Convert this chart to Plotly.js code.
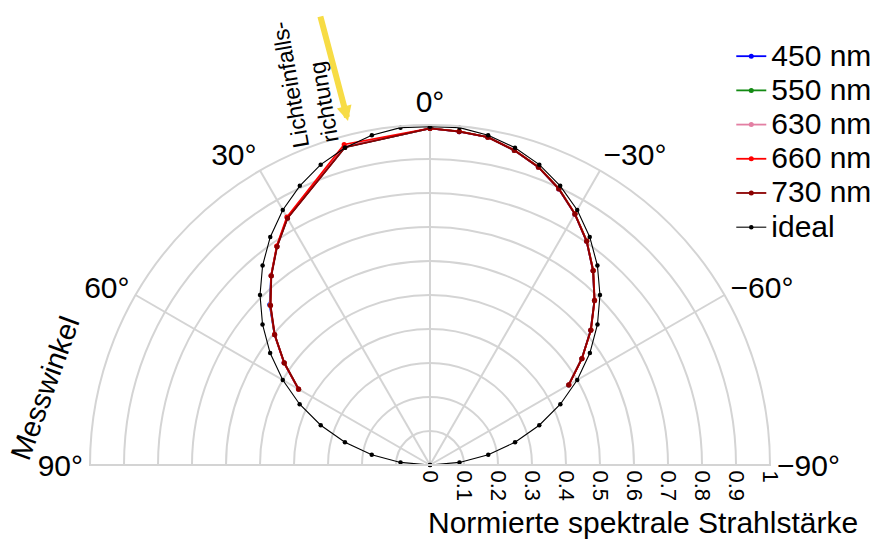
<!DOCTYPE html>
<html>
<head>
<meta charset="utf-8">
<script src="https://cdn.plot.ly/plotly-3.0.1.min.js"></script>
<style>
html,body{margin:0;padding:0;background:#fff;}
#chart{width:880px;height:541px;}
#chart .legendtext{font-size:30px !important;}
#chart .legend .scrollbox{clip-path:none !important;}
</style>
</head>
<body>
<div id="chart"></div>
<script>
// Measurement angles (degrees) for the measured series
const thetaMeas = [60, 55, 50, 45, 40, 35, 30, 15, 0, -5, -10, -15, -20, -25, -30, -35, -40, -45, -50, -55, -60];
const r450 = [0.447, 0.524, 0.597, 0.667, 0.727, 0.785, 0.839, 0.968, 0.990, 0.984, 0.979, 0.958, 0.932, 0.896, 0.852, 0.803, 0.746, 0.684, 0.617, 0.545, 0.471];
const r550 = [0.446, 0.523, 0.597, 0.665, 0.727, 0.785, 0.839, 0.968, 0.990, 0.985, 0.979, 0.958, 0.933, 0.897, 0.853, 0.804, 0.747, 0.684, 0.618, 0.545, 0.471];
const r630 = [0.446, 0.523, 0.596, 0.664, 0.727, 0.785, 0.840, 0.970, 0.990, 0.984, 0.979, 0.958, 0.932, 0.896, 0.852, 0.803, 0.746, 0.684, 0.617, 0.545, 0.471];
const r660 = [0.447, 0.524, 0.597, 0.664, 0.727, 0.786, 0.842, 0.976, 0.990, 0.985, 0.979, 0.959, 0.933, 0.897, 0.853, 0.804, 0.747, 0.685, 0.618, 0.546, 0.472];
const r730 = [0.446, 0.523, 0.596, 0.663, 0.726, 0.784, 0.838, 0.967, 0.990, 0.984, 0.979, 0.958, 0.932, 0.896, 0.852, 0.803, 0.746, 0.684, 0.617, 0.545, 0.471];
// Ideal (Lambert) reference points, every 5 degrees
const thetaIdeal = [90, 85, 80, 75, 70, 65, 60, 55, 50, 45, 40, 35, 30, 25, 20, 15, 10, 5, 0, -5, -10, -15, -20, -25, -30, -35, -40, -45, -50, -55, -60, -65, -70, -75, -80, -85, -90];
const rIdeal = [0.0, 0.087, 0.174, 0.259, 0.342, 0.423, 0.500, 0.574, 0.643, 0.707, 0.766, 0.819, 0.866, 0.906, 0.940, 0.966, 0.985, 0.996, 0.995, 0.996, 0.985, 0.966, 0.940, 0.906, 0.866, 0.819, 0.766, 0.707, 0.643, 0.574, 0.500, 0.423, 0.342, 0.259, 0.174, 0.087, 0.0];

const seriesNames = ['450 nm', '550 nm', '630 nm', '660 nm', '730 nm', 'ideal'];
const angTickVals = [-90, -60, -30, 0, 30, 60, 90];
const angTickText = ['−90°', '−60°', '−30°', '0°', '30°', '60°', '90°'];
const radTickVals = [0, 0.1, 0.2, 0.3, 0.4, 0.5, 0.6, 0.7, 0.8, 0.9, 1];
const radTickText = ['0', '0.1', '0.2', '0.3', '0.4', '0.5', '0.6', '0.7', '0.8', '0.9', '1'];

const colors = ['#0000ff', '#138a13', '#e37fa3', '#ff0000', '#8b0000', '#000000'];
const rSets = [r450, r550, r630, r660, r730];

const traces = rSets.map((rv, i) => ({
  type: 'scatterpolar', mode: 'lines+markers',
  r: rv, theta: thetaMeas, name: seriesNames[i],
  line: {color: colors[i], width: 1.8},
  marker: {color: colors[i], size: 5}
}));
traces.push({
  type: 'scatterpolar', mode: 'lines+markers',
  r: rIdeal, theta: thetaIdeal, name: seriesNames[5],
  line: {color: '#000000', width: 1.1},
  marker: {color: '#000000', size: 4.5}
});

const FONT = 'Liberation Sans, Arial, sans-serif';
const layout = {
  width: 880, height: 541,
  margin: {l: 0, r: 0, t: 0, b: 0, autoexpand: false},
  paper_bgcolor: '#ffffff',
  font: {family: FONT, size: 30, color: '#000'},
  showlegend: true,
  legend: {x: 0.831, y: 0.937, xanchor: 'left', yanchor: 'top', font: {size: 24, family: FONT}, bgcolor: 'rgba(0,0,0,0)', tracegroupgap: 0},
  polar: {
    domain: {x: [90/880, 770/880], y: [1 - 465/541, 1 - 125/541]},
    sector: [0, 180],
    bgcolor: '#ffffff',
    angularaxis: {
      rotation: 90, direction: 'counterclockwise',
      tickmode: 'array', tickvals: angTickVals, ticktext: angTickText,
      showline: true, linecolor: '#d4d4d4', linewidth: 2,
      gridcolor: '#d4d4d4', gridwidth: 2, ticks: '',
      tickfont: {size: 30, family: FONT}
    },
    radialaxis: {
      range: [0, 1], angle: 0,
      tickmode: 'array', tickvals: radTickVals, ticktext: radTickText,
      tickangle: 90, ticks: '', side: 'clockwise',
      showline: true, linecolor: '#d4d4d4', linewidth: 2,
      gridcolor: '#d4d4d4', gridwidth: 2,
      tickfont: {size: 22, family: FONT}
    }
  },
  annotations: [
    {xref: 'paper', yref: 'paper', x: 643/880, y: 1 - 522/541, text: 'Normierte spektrale Strahlstärke', showarrow: false, font: {size: 30, family: FONT}, xanchor: 'center', yanchor: 'middle'},
    {xref: 'paper', yref: 'paper', x: 45/880, y: 1 - 388/541, text: 'Messwinkel', showarrow: false, textangle: -70, font: {size: 29, family: FONT}, xanchor: 'center', yanchor: 'middle'},
    {xref: 'paper', yref: 'paper', x: 305/880, y: 1 - 82/541, text: 'Lichteinfalls-<br>richtung', align: 'left', showarrow: false, textangle: -100, font: {size: 23, family: FONT}, xanchor: 'center', yanchor: 'middle'},
    {xref: 'paper', yref: 'paper', x: 348/880, y: 1 - 121/541, text: '', showarrow: true, ax: -28, ay: -106, arrowcolor: '#f7dc45', arrowwidth: 6, arrowhead: 2, arrowsize: 0.5, standoff: 0}
  ]
};

Plotly.newPlot('chart', traces, layout, {displayModeBar: false, staticPlot: true});
</script>
</body>
</html>
